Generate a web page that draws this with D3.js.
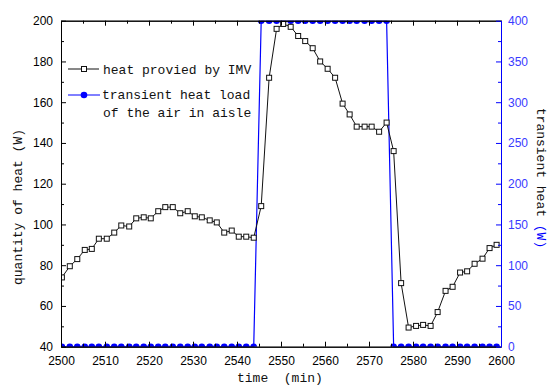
<!DOCTYPE html>
<html>
<head>
<meta charset="utf-8">
<script src="https://cdn.jsdelivr.net/npm/d3@7"></script>
<style>
	body { margin: 0; background: #fff; }
	svg { display: block; }
</style>
</head>
<body>
<svg id="chart" width="550" height="385"></svg>
<script>
/*
 *	DATA
 */
const timeMin = [
	2500.2, 2502.0, 2503.7, 2505.4, 2507.0, 2508.6, 2510.4, 2512.1, 2513.7, 2515.5,
	2517.1, 2518.8, 2520.4, 2522.1, 2523.7, 2525.4, 2527.1, 2528.8, 2530.4, 2532.0,
	2533.8, 2535.4, 2537.1, 2538.8, 2540.4, 2542.1, 2543.8, 2545.5, 2547.3, 2549.0,
	2550.5, 2552.2, 2553.9, 2555.5, 2557.2, 2558.9, 2560.6, 2562.3, 2564.0, 2565.6,
	2567.2, 2569.0, 2570.6, 2572.3, 2574.0, 2575.6, 2577.3, 2579.0, 2580.7, 2582.3,
	2584.0, 2585.6, 2587.4, 2589.0, 2590.7, 2592.3, 2594.0, 2595.8, 2597.4, 2599.0
]
const heatIMV = [
	74, 79.5, 83, 87.5, 88, 93, 93, 96, 99.5, 99,
	103, 103.5, 103, 106.5, 108.5, 108.5, 105.5, 106.5, 104, 103.5,
	102, 101, 96, 97, 94, 94, 93.5, 109, 172, 196,
	198.4, 197, 192.5, 190, 186.5, 180, 176.4, 172, 159.3, 154,
	148, 148, 148, 145.5, 150, 136, 71.2, 49.4, 50.2, 50.7,
	50.2, 57, 67.4, 69.4, 76.4, 77, 80.7, 83.2, 88.4, 90
]
const heatLoad = [
	0, 0, 0, 0, 0, 0, 0, 0, 0, 0,
	0, 0, 0, 0, 0, 0, 0, 0, 0, 0,
	0, 0, 0, 0, 0, 0, 0, 400, 400, 400,
	400, 400, 400, 400, 400, 400, 400, 400, 400, 400,
	400, 400, 400, 400, 400, 0, 0, 0, 0, 0,
	0, 0, 0, 0, 0, 0, 0, 0, 0, 0
]
const xTicks = [2500, 2510, 2520, 2530, 2540, 2550, 2560, 2570, 2580, 2590, 2600]
const xMinorTicks = [2505, 2515, 2525, 2535, 2545, 2555, 2565, 2575, 2585, 2595]
const leftTicks = [40, 60, 80, 100, 120, 140, 160, 180, 200]
const leftMinorTicks = [50, 70, 90, 110, 130, 150, 170, 190]
const rightTicks = [0, 50, 100, 150, 200, 250, 300, 350, 400]
const rightMinorTicks = [25, 75, 125, 175, 225, 275, 325, 375]
const legendLabels = ['heat provied by IMV', 'transient heat load', 'of the air in aisle']

var Chart = {
	/*
	 *	PROPERTIES
	 */
	svg: null,
	left: 61,
	right: 501,
	top: 20.7,
	bottom: 346.7,
	blue: '#0000ff',
	blueText: '#3a3aff',
	tickFont: '12px "Liberation Sans", Arial, sans-serif',
	monoFont: '"Liberation Mono", "DejaVu Sans Mono", monospace',

	init() {
		this.svg = d3.select('#chart')
		this.x = d3.scaleLinear().domain([2500, 2600]).range([this.left, this.right])
		this.yL = d3.scaleLinear().domain([40, 200]).range([this.bottom, this.top])
		this.yR = d3.scaleLinear().domain([0, 400]).range([this.bottom, this.top])
	},

	drawAxis(axis, tx, ty, color, labels) {
		const g = this.svg.append('g')
			.attr('transform', `translate(${tx},${ty})`)
			.call(axis)
		g.select('.domain').attr('stroke', color).attr('stroke-width', 1)
		g.selectAll('.tick line').attr('stroke', color)
		g.selectAll('.tick text')
			.style('font', this.tickFont)
			.attr('fill', labels)
		return g
	},

	drawAxes() {
		const b = this.bottom, t = this.top
		// bottom
		this.drawAxis(d3.axisBottom(this.x).tickValues(xTicks).tickFormat(d3.format('d'))
			.tickSizeInner(-5).tickSizeOuter(0).tickPadding(10), 0, b, '#000', '#000')
		this.drawAxis(d3.axisBottom(this.x).tickValues(xMinorTicks).tickFormat('')
			.tickSizeInner(-3).tickSizeOuter(0), 0, b, '#000', '#000')
		// top
		this.drawAxis(d3.axisTop(this.x).tickValues(xTicks).tickFormat('')
			.tickSizeInner(-5).tickSizeOuter(0), 0, t, '#000', '#000')
		this.drawAxis(d3.axisTop(this.x).tickValues(xMinorTicks).tickFormat('')
			.tickSizeInner(-3).tickSizeOuter(0), 0, t, '#000', '#000')
		// left
		this.drawAxis(d3.axisLeft(this.yL).tickValues(leftTicks)
			.tickSizeInner(-5).tickSizeOuter(0).tickPadding(8), this.left, 0, '#000', '#000')
		this.drawAxis(d3.axisLeft(this.yL).tickValues(leftMinorTicks).tickFormat('')
			.tickSizeInner(-3).tickSizeOuter(0), this.left, 0, '#000', '#000')
		// right (blue)
		this.drawAxis(d3.axisRight(this.yR).tickValues(rightTicks)
			.tickSizeInner(-5).tickSizeOuter(0).tickPadding(7), this.right, 0, this.blue, this.blueText)
		this.drawAxis(d3.axisRight(this.yR).tickValues(rightMinorTicks).tickFormat('')
			.tickSizeInner(-3).tickSizeOuter(0), this.right, 0, this.blue, this.blueText)
	},

	drawSeries() {
		this.svg.append('clipPath').attr('id', 'plotClip')
			.append('rect')
			.attr('x', this.left).attr('y', this.top)
			.attr('width', this.right - this.left).attr('height', this.bottom - this.top)

		const plot = this.svg.append('g').attr('clip-path', 'url(#plotClip)')

		// transient heat load (blue, right axis)
		const blueLine = d3.line().x((d, i) => this.x(timeMin[i])).y(d => this.yR(d))
		plot.append('path')
			.datum(heatLoad)
			.attr('d', blueLine)
			.attr('fill', 'none')
			.attr('stroke', this.blue)
			.attr('stroke-width', 1.2)
		plot.selectAll('.dot')
			.data(heatLoad)
			.join('circle')
			.attr('class', 'dot')
			.attr('cx', (d, i) => this.x(timeMin[i]))
			.attr('cy', d => this.yR(d))
			.attr('r', 3.3)
			.attr('fill', this.blue)

		// heat provided by IMV (black squares, left axis)
		const blackLine = d3.line().x((d, i) => this.x(timeMin[i])).y(d => this.yL(d))
		plot.append('path')
			.datum(heatIMV)
			.attr('d', blackLine)
			.attr('fill', 'none')
			.attr('stroke', '#111')
			.attr('stroke-width', 1)
		const s = 5
		plot.selectAll('.sq')
			.data(heatIMV)
			.join('rect')
			.attr('class', 'sq')
			.attr('x', (d, i) => this.x(timeMin[i]) - s / 2)
			.attr('y', d => this.yL(d) - s / 2)
			.attr('width', s)
			.attr('height', s)
			.attr('fill', '#fff')
			.attr('stroke', '#111')
			.attr('stroke-width', 1)
	},

	drawLegend() {
		const g = this.svg.append('g')
		// black entry
		g.append('line').attr('x1', 68).attr('x2', 99).attr('y1', 69).attr('y2', 69)
			.attr('stroke', '#111')
		g.append('rect').attr('x', 81.5).attr('y', 66.5).attr('width', 5).attr('height', 5)
			.attr('fill', '#fff').attr('stroke', '#111')
		// blue entry
		g.append('line').attr('x1', 68).attr('x2', 100).attr('y1', 95).attr('y2', 95)
			.attr('stroke', this.blue)
		g.append('circle').attr('cx', 84).attr('cy', 95).attr('r', 3.3).attr('fill', this.blue)

		const txt = [[103, 74], [102, 99], [103, 117]]
		legendLabels.forEach((label, i) => {
			g.append('text')
				.attr('x', txt[i][0]).attr('y', txt[i][1])
				.style('font-family', this.monoFont)
				.style('font-size', '13px')
				.attr('fill', '#111')
				.text(label)
		})
	},

	drawTitles() {
		this.svg.append('text')
			.attr('x', 237).attr('y', 382)
			.style('font-family', this.monoFont).style('font-size', '13px')
			.style('white-space', 'pre')
			.attr('fill', '#111')
			.text('time  (min)')

		this.svg.append('text')
			.attr('transform', 'translate(22,207) rotate(-90)')
			.attr('text-anchor', 'middle')
			.style('font-family', this.monoFont).style('font-size', '13px')
			.attr('fill', '#111')
			.text('quantity of heat (W)')

		const r = this.svg.append('text')
			.attr('transform', 'translate(537,178) rotate(90)')
			.attr('text-anchor', 'middle')
			.style('font-family', this.monoFont).style('font-size', '13px')
			.attr('fill', '#111')
		r.append('tspan').text('transient heat ')
		r.append('tspan').attr('fill', this.blue).text('(W)')
	},

	draw() {
		this.init()
		this.drawSeries()
		this.drawAxes()
		this.drawLegend()
		this.drawTitles()
	}
}

Chart.draw()
</script>
</body>
</html>
